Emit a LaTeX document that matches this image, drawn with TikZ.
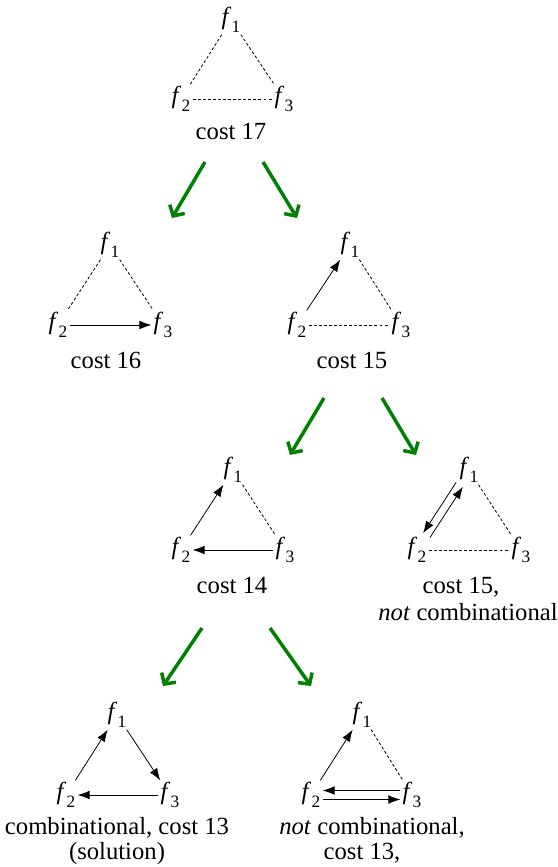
\documentclass[tikz,border=0pt]{standalone}
\usepackage{fontspec}
\setmainfont{Liberation Serif}
\usetikzlibrary{arrows.meta}
\definecolor{treegreen}{RGB}{0,128,0}
\newcommand\fsub[1]{\textit{f}\kern0.2pt\raisebox{-0.3em}{\fontsize{13}{13}\selectfont #1}}
\begin{document}
\begin{tikzpicture}[x=0.75pt,y=-0.75pt,
  fn/.style={inner sep=1.5pt, font=\fontsize{18.5}{18.5}\selectfont},
  lab/.style={anchor=base, inner sep=0pt, font=\fontsize{18.5}{21}\selectfont},
  dsh/.style={line width=0.6pt, dash pattern=on 2.2pt off 1.6pt},
  arr/.style={line width=0.6pt, -{Latex[length=9pt,width=6.5pt]}},
  grn/.style={draw=treegreen, line width=2.6pt, -{Straight Barb[length=6pt,width=13pt]}}]
\useasboundingbox (0,0) rectangle (557,867);

% tree A
\node[fn] (a1) at (231,20) {\fsub{1}};
\node[fn] (a2) at (181,99) {\fsub{2}};
\node[fn] (a3) at (284,99) {\fsub{3}};
\node[lab] (la) at (231,139) {cost 17};
\draw[dsh] (a1) -- (a2);
\draw[dsh] (a1) -- (a3);
\draw[dsh] (a2) -- (a3);

% green arrows 1
\coordinate (s1) at (205,162); \coordinate (t1) at (172,218);
\coordinate (s2) at (263,162); \coordinate (t2) at (297,218);
\draw[grn] (s1) -- (t1);
\draw[grn] (s2) -- (t2);

% tree B
\node[fn] (b1) at (110,245) {\fsub{1}};
\node[fn] (b2) at (58,325) {\fsub{2}};
\node[fn] (b3) at (163,325) {\fsub{3}};
\node[lab] (lb) at (106,368) {cost 16};
\draw[dsh] (b1) -- (b2);
\draw[dsh] (b1) -- (b3);
\draw[arr] (b2) -- (b3);

% tree C
\node[fn] (c1) at (350,245) {\fsub{1}};
\node[fn] (c2) at (297,325) {\fsub{2}};
\node[fn] (c3) at (401,325) {\fsub{3}};
\node[lab] (lc) at (352,368) {cost 15};
\draw[arr] (c2) -- (c1);
\draw[dsh] (c1) -- (c3);
\draw[dsh] (c2) -- (c3);

% green arrows 2
\coordinate (s3) at (324,398); \coordinate (t3) at (290,455);
\coordinate (s4) at (382,398); \coordinate (t4) at (416,455);
\draw[grn] (s3) -- (t3);
\draw[grn] (s4) -- (t4);

% tree D
\node[fn] (d1) at (233,470) {\fsub{1}};
\node[fn] (d2) at (181,550) {\fsub{2}};
\node[fn] (d3) at (285,550) {\fsub{3}};
\node[lab] (ld) at (232,593) {cost 14};
\draw[arr] (d2) -- (d1);
\draw[arr] (d3) -- (d2);
\draw[dsh] (d1) -- (d3);

% tree E
\node[fn] (e1) at (469,470) {\fsub{1}};
\node[fn] (e2) at (417,550) {\fsub{2}};
\node[fn] (e3) at (521,550) {\fsub{3}};
\node[lab] (le) at (461,593) {cost 15,};
\node[lab] (le2) at (468,620) {\textit{not} combinational};
\draw[arr, transform canvas={shift={(-3.4,-2.2)}}] (e1) -- (e2);
\draw[arr, transform canvas={shift={(3.4,2.2)}}] (e2) -- (e1);
\draw[dsh] (e1) -- (e3);
\draw[dsh] (e2) -- (e3);

% green arrows 3
\coordinate (s5) at (202,628); \coordinate (t5) at (163,686);
\coordinate (s6) at (270,628); \coordinate (t6) at (311,686);
\draw[grn] (s5) -- (t5);
\draw[grn] (s6) -- (t6);

% tree F
\node[fn] (g1) at (117,715) {\fsub{1}};
\node[fn] (g2) at (66,795) {\fsub{2}};
\node[fn] (g3) at (170,795) {\fsub{3}};
\node[lab] (lg) at (117,834) {combinational, cost 13};
\node[lab] (lg2) at (117,859) {(solution)};
\draw[arr] (g2) -- (g1);
\draw[arr] (g1) -- (g3);
\draw[arr] (g3) -- (g2);

% tree G
\node[fn] (h1) at (362,715) {\fsub{1}};
\node[fn] (h2) at (311,795) {\fsub{2}};
\node[fn] (h3) at (412,795) {\fsub{3}};
\node[lab] (lh) at (372,834) {\textit{not} combinational,};
\node[lab] (lh2) at (362,859) {cost 13,};
\draw[arr] (h2) -- (h1);
\draw[arr, transform canvas={shift={(0,-4.5)}}] (h3) -- (h2);
\draw[arr, transform canvas={shift={(0,4.5)}}] (h2) -- (h3);
\draw[dsh] (h1) -- (h3);
\end{tikzpicture}
\end{document}
